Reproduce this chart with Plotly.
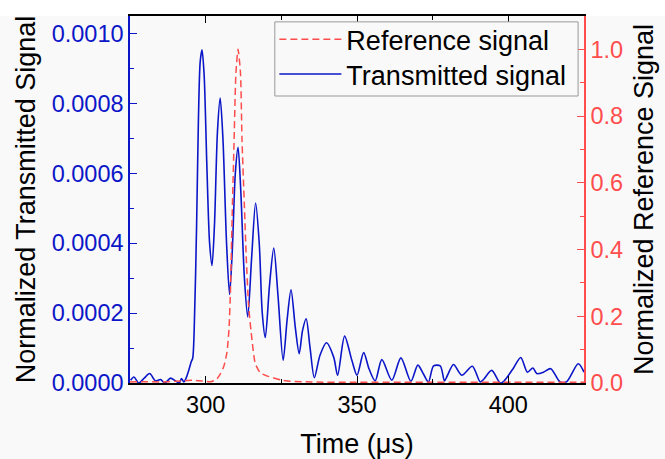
import plotly.graph_objects as go

# Transmitted signal (left axis)
t_trans = [275.2, 276.3, 277.9, 279.7, 281.5, 283.4, 285.1, 286.5, 288.4, 290.0,
           291.3, 292.0, 292.8, 293.5, 294.4, 295.2, 295.7, 296.2, 297.0, 297.6,
           298.2, 298.8, 299.5, 300.4, 301.3, 302.1, 302.9, 303.9, 304.8, 305.7,
           306.9, 307.9, 308.8, 309.8, 310.7, 311.6, 312.8, 313.9, 315.2, 316.5,
           317.7, 318.7, 319.7, 321.1, 322.5, 323.9, 325.6, 326.9, 328.2, 329.6,
           330.9, 332.0, 333.2, 334.5, 335.9, 337.8, 339.9, 342.3, 343.6, 345.9,
           348.3, 350.0, 352.2, 354.0, 356.0, 358.2, 361.5, 364.5, 367.8, 370.1,
           372.0, 373.6, 375.3, 377.5, 378.9, 379.8, 381.9, 384.6, 388.1, 390.7,
           391.8, 394.5, 397.3, 398.5, 401.5, 404.1, 406.3, 408.1, 409.4, 411.6,
           414.0, 417.1, 419.3, 423.1, 425.0]
v_trans = [0.0000077, 0.000017, 0.0, 0.000014, 0.000027, 0.000006, 0.00001, 0.0, 0.000014, 0.000006,
           0.0, 0.000013, 0.000003, 0.000013, 0.000036, 0.00006, 0.00007, 0.00015, 0.00045, 0.00075,
           0.00092, 0.000953, 0.00088, 0.00062, 0.00040, 0.000336, 0.00045, 0.00072, 0.000815, 0.00070,
           0.00040, 0.000253, 0.00038, 0.00060, 0.000674, 0.00055, 0.00030, 0.000189, 0.00036, 0.000515,
           0.00040, 0.00020, 0.000130, 0.00028, 0.000386, 0.00025, 0.000065, 0.00018, 0.000267, 0.00016,
           0.000084, 0.00015, 0.000184, 0.00010, 0.000015, 0.00008, 0.000115, 0.000074, 0.000022, 0.000134,
           0.000065, 0.000022, 0.000087, 0.00004, 0.000006, 0.000067, 0.000008, 0.000072, 0.000005, 0.000051,
           0.000025, 0.000003, 0.000049, 0.000049, 0.000006, 0.00002, 0.000053, 0.000022, 0.000048, 0.000003,
           0.00001, 0.000036, 0.0, 0.000005, 0.00004, 0.000073, 0.000031, 0.000043, 0.000027, 0.000031,
           0.000041, 0.000003, 0.000004, 0.000055, 0.000031]

# Reference signal (right axis)
t_ref = [275, 280, 285, 290, 295.5, 299, 301.6, 303.5, 304.9, 306.0, 307.0, 307.7,
         308.2, 308.7, 309.4, 310.0, 310.7, 311.5, 312.0, 312.8, 313.4, 314.2, 315.3,
         316.4, 318.1, 320.0, 322.5, 325.0, 328.0, 335, 350, 375, 400, 425]
v_ref = [0.003, 0.004, 0.003, 0.005, 0.008, 0.006, 0.004, 0.010, 0.028, 0.05, 0.09, 0.16,
         0.28, 0.48, 0.73, 0.93, 1.0, 0.93, 0.73, 0.53, 0.38, 0.23, 0.13,
         0.058, 0.03, 0.022, 0.015, 0.009, 0.005, 0.003, 0.002, 0.002, 0.002, 0.002]

x_ticks = [300, 350, 400]
y_ticks = [0, 0.0002, 0.0004, 0.0006, 0.0008, 0.0010]
y_ticklabels = ["0.0000", "0.0002", "0.0004", "0.0006", "0.0008", "0.0010"]
y2_ticks = [0, 0.2, 0.4, 0.6, 0.8, 1.0]
y2_ticklabels = ["0.0", "0.2", "0.4", "0.6", "0.8", "1.0"]

BLUE = "#0b16c8"
RED = "#ff4d4d"
BG = "#f9f9f9"
FONT = "Liberation Sans, Arial, sans-serif"

fig = go.Figure()
fig.add_trace(go.Scatter(x=t_ref, y=v_ref, name="Reference signal", yaxis="y2", legend="legend",
                         mode="lines", line=dict(color=RED, width=1.5, dash="7px,4px", shape="spline", smoothing=0.6)))
fig.add_trace(go.Scatter(x=t_trans, y=v_trans, name="Transmitted signal", yaxis="y", legend="legend2",
                         mode="lines", line=dict(color=BLUE, width=1.6, shape="spline", smoothing=0.8)))

leg_common = dict(xanchor="left", yanchor="top", bgcolor="rgba(0,0,0,0)", borderwidth=0,
                  font=dict(size=27, color="black"), itemwidth=62)

fig.update_layout(
    width=665, height=459,
    margin=dict(l=130, r=81, t=16, b=76),
    paper_bgcolor=BG, plot_bgcolor=BG,
    font=dict(family=FONT, size=23.5, color="black"),
    showlegend=True,
    legend=dict(x=0.318, y=1.002, **leg_common),
    legend2=dict(x=0.318, y=0.9073, **leg_common),
    xaxis=dict(range=[275, 425], tickvals=x_ticks, showline=True, linecolor="black",
               linewidth=1.5, mirror="ticks", ticks="inside", ticklen=7, tickcolor="black",
               minor=dict(tickvals=[325, 375], ticks="inside", ticklen=4, tickcolor="black"),
               showgrid=False, zeroline=False, automargin=False,
               tickfont=dict(size=23.5, color="black"),
               title=dict(text="Time (μs)", font=dict(size=27, color="black"), standoff=26)),
    yaxis=dict(range=[0, 0.00105], tickvals=y_ticks, ticktext=y_ticklabels,
               showline=True, linecolor=BLUE, linewidth=1.5, ticks="inside", ticklen=7,
               tickcolor=BLUE, automargin=False,
               minor=dict(tickvals=[0.0001, 0.0003, 0.0005, 0.0007, 0.0009], ticks="inside",
                          ticklen=4, tickcolor=BLUE),
               showgrid=False, zeroline=False,
               tickfont=dict(size=23.5, color=BLUE),
               title=dict(text="Normalized Transmitted Signal", font=dict(size=27, color="black"), standoff=8)),
    yaxis2=dict(range=[0, 1.1], overlaying="y", side="right", tickvals=y2_ticks, ticktext=y2_ticklabels,
                showline=True, linecolor=RED, linewidth=1.5, ticks="inside", ticklen=7,
                tickcolor=RED, automargin=False,
                minor=dict(tickvals=[0.1, 0.3, 0.5, 0.7, 0.9], ticks="inside", ticklen=4, tickcolor=RED),
                showgrid=False, zeroline=False,
                tickfont=dict(size=23.5, color=RED),
                title=dict(text="Normalized Reference Signal", font=dict(size=27, color="black"), standoff=12)),
    shapes=[
        dict(type="rect", xref="paper", yref="paper", x0=-0.5, x1=1.5, y0=1.0, y1=1.2,
             fillcolor="white", line=dict(width=0), layer="below"),
        dict(type="rect", xref="paper", yref="paper", x0=0.319, x1=0.987, y0=0.782, y1=0.984,
             fillcolor=BG, line=dict(color="#999999", width=1), layer="above"),
    ],
)

fig.write_html("out.html", config={"displayModeBar": False},
               post_script="document.body.style.margin='0';document.body.style.overflow='hidden';")
